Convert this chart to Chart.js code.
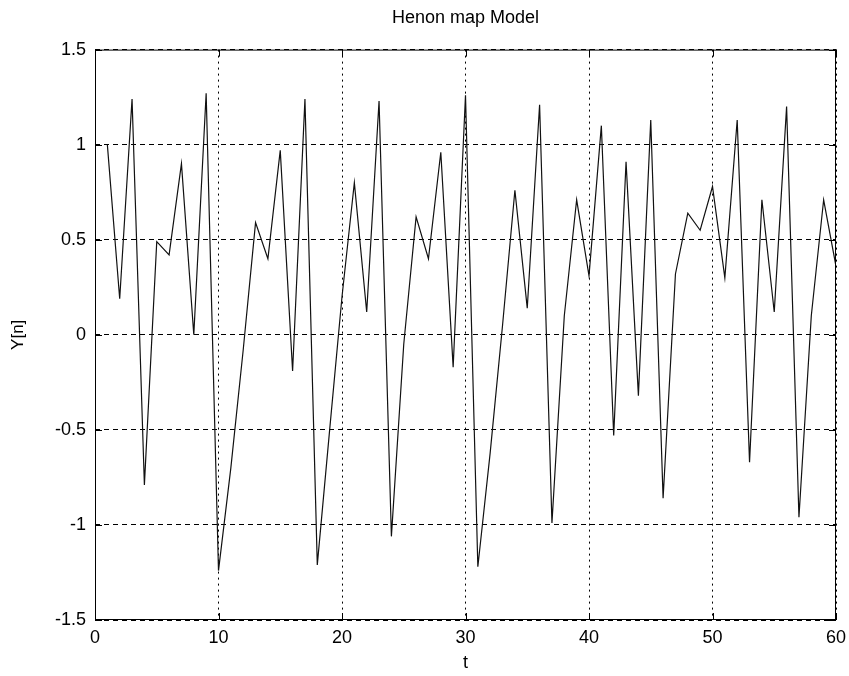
<!DOCTYPE html>
<html>
<head>
<meta charset="utf-8">
<script src="https://cdn.jsdelivr.net/npm/chart.js@4"></script>
<style>
  body { margin: 0; background: #fff; }
  #wrap { width: 849px; height: 676px; }
</style>
</head>
<body>
<div id="wrap"><canvas id="henon"></canvas></div>
<script>
// time steps and Y[n] values
var tValues = [1, 2, 3, 4, 5, 6, 7, 8, 9, 10,
  11, 12, 13, 14, 15, 16, 17, 18, 19, 20,
  21, 22, 23, 24, 25, 26, 27, 28, 29, 30,
  31, 32, 33, 34, 35, 36, 37, 38, 39, 40,
  41, 42, 43, 44, 45, 46, 47, 48, 49, 50,
  51, 52, 53, 54, 55, 56, 57, 58, 59, 60];
var yValues = [1.0, 0.19, 1.24, -0.79, 0.49, 0.42, 0.90, 0.0, 1.27, -1.24,
  -0.70, -0.08, 0.59, 0.40, 0.97, -0.19, 1.24, -1.21, -0.50, 0.20,
  0.80, 0.12, 1.23, -1.06, -0.05, 0.62, 0.40, 0.96, -0.17, 1.26,
  -1.22, -0.62, 0.05, 0.76, 0.14, 1.21, -0.99, 0.10, 0.71, 0.31,
  1.10, -0.53, 0.91, -0.32, 1.13, -0.86, 0.32, 0.64, 0.55, 0.78,
  0.30, 1.13, -0.67, 0.71, 0.12, 1.20, -0.96, 0.10, 0.71, 0.36];
var xTicks = [0, 10, 20, 30, 40, 50, 60];
var yTicks = [-1.5, -1, -0.5, 0, 0.5, 1, 1.5];

var fontFam = "'Liberation Sans', Arial, sans-serif";

var points = tValues.map(function (t, i) {
  return { x: t, y: yValues[i] };
});

// box round the plot plus the little inward ticks
var boxPlugin = {
  id: 'box',
  afterDraw: function (chart) {
    var ctx = chart.ctx;
    var a = chart.chartArea;
    var xs = chart.scales.x, ys = chart.scales.y;
    ctx.save();
    ctx.strokeStyle = '#000';
    ctx.lineWidth = 1;
    ctx.setLineDash([]);
    ctx.strokeRect(a.left + 0.5, a.top + 0.5, a.right - a.left - 1, a.bottom - a.top - 1);
    ctx.beginPath();
    xTicks.forEach(function (v) {
      var px = Math.round(xs.getPixelForValue(v)) + 0.5;
      ctx.moveTo(px, a.bottom); ctx.lineTo(px, a.bottom - 7);
      ctx.moveTo(px, a.top); ctx.lineTo(px, a.top + 7);
    });
    yTicks.forEach(function (v) {
      var py = Math.round(ys.getPixelForValue(v)) + 0.5;
      ctx.moveTo(a.left, py); ctx.lineTo(a.left + 7, py);
      ctx.moveTo(a.right, py); ctx.lineTo(a.right - 7, py);
    });
    ctx.stroke();
    ctx.restore();
  }
};

var bgPlugin = {
  id: 'bg',
  beforeDraw: function (chart) {
    var ctx = chart.ctx;
    ctx.save();
    ctx.fillStyle = '#fff';
    ctx.fillRect(0, 0, chart.width, chart.height);
    ctx.restore();
  }
};

new Chart("henon", {
  type: "line",
  data: {
    datasets: [{
      data: points,
      borderColor: "#111",
      borderWidth: 1.2,
      pointRadius: 0,
      tension: 0,
      fill: false
    }]
  },
  options: {
    responsive: true,
    maintainAspectRatio: false,
    animation: false,
    layout: { padding: { left: 0, right: 13, top: 0, bottom: 0 } },
    plugins: {
      legend: { display: false },
      tooltip: { enabled: false },
      title: {
        display: true,
        fullSize: false,
        text: "Henon map Model",
        color: "#000",
        font: { family: fontFam, size: 18, weight: 'normal' },
        padding: { top: 7, bottom: 21 }
      }
    },
    scales: {
      x: {
        type: "linear",
        min: 0,
        max: 60,
        afterFit: function (s) {
          s.height = 56;
          s.paddingLeft = 0;
          s.paddingRight = 0;
        },
        afterBuildTicks: function (s) {
          s.ticks = xTicks.map(function (v) { return { value: v }; });
        },
        ticks: {
          color: "#000",
          padding: 7,
          maxRotation: 0,
          font: { family: fontFam, size: 18 }
        },
        grid: { color: "#000", lineWidth: 1, drawTicks: false },
        border: { display: false, dash: [2, 4] },
        title: {
          display: true,
          text: "t",
          color: "#000",
          font: { family: fontFam, size: 18 },
          padding: { top: 0, bottom: 2 }
        }
      },
      y: {
        type: "linear",
        min: -1.5,
        max: 1.5,
        afterFit: function (s) { s.width = 95; },
        afterBuildTicks: function (s) {
          s.ticks = yTicks.map(function (v) { return { value: v }; });
        },
        ticks: {
          color: "#000",
          padding: 9,
          font: { family: fontFam, size: 18 },
          callback: function (v) { return String(v); }
        },
        grid: { color: "#000", lineWidth: 1, drawTicks: false },
        border: { display: false, dash: [5, 4] },
        title: {
          display: true,
          text: "Y[n]",
          color: "#000",
          font: { family: fontFam, size: 17 },
          padding: { top: 8, bottom: 0 }
        }
      }
    }
  },
  plugins: [bgPlugin, boxPlugin]
});
</script>
</body>
</html>
